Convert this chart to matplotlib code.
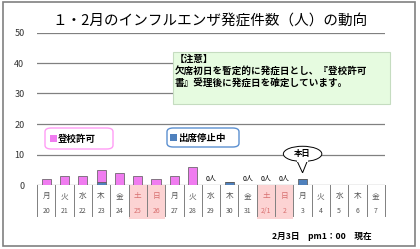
import matplotlib.pyplot as plt
from matplotlib.patches import Rectangle, FancyBboxPatch, Ellipse, Polygon

plt.rcParams['font.family'] = ['Noto Sans CJK JP', 'DejaVu Sans']

# --- data ---
dates = ["20", "21", "22", "23", "24", "25", "26", "27", "28", "29",
         "30", "31", "2/1", "2", "3", "4", "5", "6", "7"]
weekdays = ["月", "火", "水", "木", "金", "土", "日", "月", "火", "水",
            "木", "金", "土", "日", "月", "火", "水", "木", "金"]
suspended = [0, 0, 0, 1, 0, 0, 0, 0, 0, 0, 1, 0, 0, 0, 2, None, None, None, None]
permitted = [2, 3, 3, 4, 4, 3, 2, 3, 6, 0, 0, 0, 0, 0, 0, None, None, None, None]
zero_labels = ["29", "31", "2/1", "2"]
today = "3"

pink = "#f07cf0"
blue = "#4f81bd"

fig = plt.figure(figsize=(4.2, 2.49), dpi=100)
fig.patch.set_facecolor("white")
fig.patches.append(Rectangle((3 / 420, 3 / 249), 412 / 420, 244 / 249,
                             transform=fig.transFigure, fill=False,
                             edgecolor="#808080", lw=1.2))

ax = fig.add_axes([37 / 420, 64 / 249, 348 / 420, 152.5 / 249])
ax.set_xlim(-0.5, len(dates) - 0.5)
ax.set_ylim(0, 50)
for s in ax.spines.values():
    s.set_visible(False)
ax.set_yticks([0, 10, 20, 30, 40, 50])
ax.tick_params(axis="y", length=0, pad=9, labelsize=6.5, labelcolor="#333")
ax.set_xticks([])
for v in [10, 20, 30, 40, 50]:
    ax.axhline(v, color="#808080", lw=0.9, zorder=0)
ax.axhline(0, color="#808080", lw=0.9, zorder=1)

x = list(range(len(dates)))
sus = [v if v is not None else 0 for v in suspended]
per = [v if v is not None else 0 for v in permitted]
ax.bar(x, sus, width=0.5, color=blue, edgecolor="#555", lw=0.5, zorder=2)
ax.bar(x, per, width=0.5, bottom=sus, color=pink, edgecolor="#555", lw=0.5, zorder=2)

# --- date table below the axis ---
for i, (d, w) in enumerate(zip(dates, weekdays)):
    weekend = w in ("土", "日")
    if weekend:
        ax.add_patch(Rectangle((i - 0.5, -11), 1, 11, facecolor="#fcd3d3",
                               edgecolor="none", clip_on=False, zorder=0))
    c = "#d87070" if weekend else "#555"
    ax.text(i, -3.6, w, ha="center", va="center", fontsize=5.5, color=c, clip_on=False)
    ax.text(i, -8.4, d, ha="center", va="center", fontsize=5, color=c, clip_on=False)
for i in range(len(dates) + 1):
    ax.plot([i - 0.5, i - 0.5], [0, -10.1], color="#808080", lw=0.7, clip_on=False)

for d in zero_labels:
    ax.text(dates.index(d), 0.7, "0人", ha="center", va="bottom", fontsize=5, clip_on=False)

# --- today callout ---
ti = dates.index(today)
ax.add_patch(Polygon([(ti - 0.35, 8.5), (ti, 4.0), (ti + 0.3, 8.5)], closed=True,
                     facecolor="white", edgecolor="black", lw=0.7, zorder=4))
ax.add_patch(Ellipse((ti, 10.2), 2.1, 5.0, facecolor="white", edgecolor="black",
                     lw=0.7, zorder=5))
ax.add_patch(Rectangle((ti - 0.28, 7.4), 0.56, 1.5, facecolor="white",
                       edgecolor="none", zorder=6))
ax.text(ti, 10.2, "本日", ha="center", va="center", fontsize=6, weight="bold", zorder=7)

# --- legend boxes ---
fig.patches.append(FancyBboxPatch((45 / 420, (249 - 149) / 249), 68 / 420, 21 / 249,
                                  boxstyle="round,pad=0,rounding_size=0.015",
                                  transform=fig.transFigure, facecolor="white",
                                  edgecolor="#ff9cf5", lw=1))
fig.patches.append(Rectangle((50 / 420, (249 - 142) / 249), 7 / 420, 7 / 249,
                             transform=fig.transFigure, facecolor=pink, edgecolor="none"))
fig.text(58 / 420, (249 - 138.5) / 249, "登校許可", fontsize=6.8, weight="bold", va="center")

fig.patches.append(FancyBboxPatch((167 / 420, (249 - 147) / 249), 72 / 420, 19 / 249,
                                  boxstyle="round,pad=0,rounding_size=0.015",
                                  transform=fig.transFigure, facecolor="white",
                                  edgecolor="#5b8fd0", lw=1))
fig.patches.append(Rectangle((170 / 420, (249 - 141) / 249), 7 / 420, 7 / 249,
                             transform=fig.transFigure, facecolor=blue, edgecolor="none"))
fig.text(178 / 420, (249 - 137.5) / 249, "出席停止中", fontsize=6.8, weight="bold", va="center")

# --- note box ---
fig.patches.append(Rectangle((173 / 420, (249 - 104) / 249), 217 / 420, 52 / 249,
                             transform=fig.transFigure, facecolor="#e6fbe0",
                             edgecolor="#c5dcc0", lw=0.8))
note = "【注意】\n欠席初日を暫定的に発症日とし、『登校許可\n書』受理後に発症日を確定しています。"
fig.text(175 / 420, (249 - 54) / 249, note, fontsize=6.9, weight="bold", va="top",
         linespacing=1.25)

# --- title and footer ---
fig.text(210 / 420, (249 - 22) / 249, "１・2月のインフルエンザ発症件数（人）の動向",
         ha="center", va="center", fontsize=10.5)
fig.text(372 / 420, (249 - 236) / 249, "2月3日　pm1：00　現在", ha="right",
         va="center", fontsize=6.2, weight="bold")

fig.savefig("out.png", dpi=100)
